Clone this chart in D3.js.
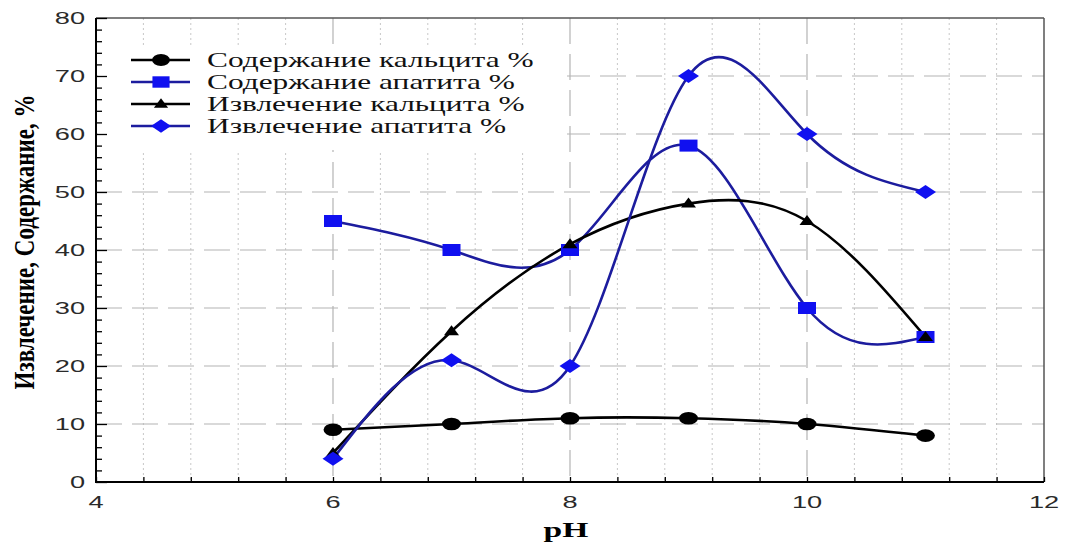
<!DOCTYPE html>
<html>
<head>
<meta charset="utf-8">
<script src="https://cdn.jsdelivr.net/npm/d3@7"></script>
<style>
  body { margin: 0; background: #fff; }
  svg { display: block; }
</style>
</head>
<body>
<div id="plot"></div>
<script>
// data
var ph = [6, 7, 8, 9, 10, 11];
var calciteContent = [9, 10, 11, 11, 10, 8];
var apatiteContent = [45, 40, 40, 58, 30, 25];
var calciteRecovery = [5, 26, 41, 48, 45, 25];
var apatiteRecovery = [4, 21, 20, 70, 60, 50];
var seriesNames = ["Содержание кальцита %", "Содержание апатита %", "Извлечение кальцита %", "Извлечение апатита %"];
var xTicks = [4, 6, 8, 10, 12];
var yTicks = [0, 10, 20, 30, 40, 50, 60, 70, 80];

var width = 1066;
var height = 542;
var SX = 1.6; // the original picture is stretched sideways

// plot box (window.top is read-only, so no "top" here)
var plotL = 96, plotR = 1044, plotT = 18, plotB = 482;

var svg = d3.select("#plot").append("svg")
    .attr("width", width)
    .attr("height", height);

var x = d3.scaleLinear().domain([4, 12]).range([plotL, plotR]);
var y = d3.scaleLinear().domain([0, 80]).range([plotB, plotT]);

var navy = "#1c1c9e";
var blue = "#1010f0";

var series = [
  { name: seriesNames[0], values: calciteContent, line: "#000", fill: "#000", shape: "circle" },
  { name: seriesNames[1], values: apatiteContent, line: navy, fill: blue, shape: "square" },
  { name: seriesNames[2], values: calciteRecovery, line: "#000", fill: "#000", shape: "triangle" },
  { name: seriesNames[3], values: apatiteRecovery, line: navy, fill: blue, shape: "diamond" }
];

// text helper, stretched horizontally like the source image
function addText(parent, px, py, str, opt) {
  var sx = opt.sx || SX;
  var t = parent.append("text")
    .attr("transform", "translate(" + px + "," + py + ") scale(" + sx + ",1)" + (opt.rotate ? " rotate(-90)" : ""))
    .attr("text-anchor", opt.anchor || "start")
    .style("font-family", opt.family)
    .style("font-size", opt.size + "px")
    .style("font-weight", opt.weight || "normal")
    .style("fill", opt.color || "#000")
    .text(str);
  if (opt.dy) t.attr("dy", opt.dy);
  return t;
}

// minor vertical dotted grid every 0.4
var minorX = d3.range(4.4, 12, 0.4).filter(function(v) { return Math.abs(v / 2 - Math.round(v / 2)) > 0.01; });
svg.append("g").selectAll("line")
  .data(minorX)
  .enter().append("line")
  .attr("x1", function(d) { return x(d); })
  .attr("x2", function(d) { return x(d); })
  .attr("y1", plotT).attr("y2", plotB)
  .style("stroke", "#c8c8c8")
  .style("stroke-width", 1)
  .style("stroke-dasharray", "2,3");

// major dashed grid
svg.append("g").selectAll("line")
  .data(xTicks.slice(1, -1))
  .enter().append("line")
  .attr("x1", function(d) { return x(d); })
  .attr("x2", function(d) { return x(d); })
  .attr("y1", plotT).attr("y2", plotB)
  .style("stroke", "#b4b4b4")
  .style("stroke-width", 1.2)
  .style("stroke-dasharray", "26,10");

svg.append("g").selectAll("line")
  .data(yTicks.slice(1, -1))
  .enter().append("line")
  .attr("x1", plotL).attr("x2", plotR)
  .attr("y1", function(d) { return y(d); })
  .attr("y2", function(d) { return y(d); })
  .style("stroke", "#b4b4b4")
  .style("stroke-width", 1.2)
  .style("stroke-dasharray", "26,10");

// white legend box hides grid behind it
svg.append("rect")
  .attr("x", plotL + 2).attr("y", 45)
  .attr("width", x(8) - plotL - 5).attr("height", 105)
  .style("fill", "#fff");

// frame
svg.append("line").attr("x1", plotL).attr("x2", plotR).attr("y1", plotT).attr("y2", plotT)
  .style("stroke", "#555").style("stroke-width", 1.5);
svg.append("line").attr("x1", plotR).attr("x2", plotR).attr("y1", plotT).attr("y2", plotB)
  .style("stroke", "#555").style("stroke-width", 1.5);

// axes with inward ticks
var yAxis = d3.axisRight(y).tickValues(d3.range(0, 81, 2)).tickSize(6).tickFormat("");
svg.append("g").attr("transform", "translate(" + plotL + ",0)").call(yAxis)
  .call(function(g) {
    g.select(".domain").remove();
    g.selectAll(".tick line")
      .attr("x2", function(d) { return d % 10 === 0 ? 11 : 6; })
      .style("stroke", "#000").style("stroke-width", 1.3);
  });

var xAxis = d3.axisTop(x).tickValues(d3.range(4, 12.01, 0.4)).tickSize(5).tickFormat("");
svg.append("g").attr("transform", "translate(0," + plotB + ")").call(xAxis)
  .call(function(g) {
    g.select(".domain").remove();
    g.selectAll(".tick line").style("stroke", "#000").style("stroke-width", 1.3);
  });

svg.append("line").attr("x1", plotL).attr("x2", plotL).attr("y1", plotT).attr("y2", plotB + 1)
  .style("stroke", "#000").style("stroke-width", 2);
svg.append("line").attr("x1", plotL - 1).attr("x2", plotR).attr("y1", plotB).attr("y2", plotB)
  .style("stroke", "#000").style("stroke-width", 2);

// tick labels
yTicks.forEach(function(v) {
  addText(svg, plotL - 11, y(v), v, { family: "Liberation Sans, Arial", size: 17, anchor: "end", color: "#2a2a2a", dy: "0.36em" });
});
xTicks.forEach(function(v) {
  addText(svg, x(v), 508, v, { family: "Liberation Sans, Arial", size: 17, anchor: "middle", color: "#2a2a2a" });
});

// axis titles
addText(svg, 566, 537, "pH", { family: "Liberation Serif, Times New Roman", size: 21, weight: "bold", anchor: "middle" });
var yt = addText(svg, 34, 242, "Извлечение, Содержание, %", { family: "Liberation Serif, Times New Roman", size: 18, weight: "bold", anchor: "middle", rotate: true });
yt.attr("textLength", 295).attr("lengthAdjust", "spacingAndGlyphs");

// marker shapes
function marker(g, shape, fill, k) {
  var s;
  if (shape === "circle") {
    s = g.append("circle").attr("r", 6.3 * k);
  } else if (shape === "square") {
    s = g.append("rect").attr("x", -6 * k).attr("y", -6 * k).attr("width", 12 * k).attr("height", 12 * k);
  } else if (shape === "triangle") {
    s = g.append("path").attr("d", "M0," + (-6 * k) + "L" + (5 * k) + "," + (4 * k) + "L" + (-5 * k) + "," + (4 * k) + "Z");
  } else {
    s = g.append("path").attr("d", "M0," + (-7 * k) + "L" + (7 * k) + ",0L0," + (7 * k) + "L" + (-7 * k) + ",0Z");
  }
  s.style("fill", fill);
}

var line = d3.line()
  .x(function(d, i) { return x(ph[i]); })
  .y(function(d) { return y(d); })
  .curve(d3.curveNatural);

series.forEach(function(s) {
  svg.append("path")
    .datum(s.values)
    .attr("d", line)
    .style("fill", "none")
    .style("stroke", s.line)
    .style("stroke-width", 2.6);
});

series.forEach(function(s) {
  s.values.forEach(function(v, i) {
    var g = svg.append("g")
      .attr("transform", "translate(" + x(ph[i]) + "," + y(v) + ") scale(" + 1.5 + ",1)");
    marker(g, s.shape, s.fill, 1);
  });
});

// legend
var legendRows = [60, 82, 104, 126];
series.forEach(function(s, i) {
  var ly = legendRows[i];
  svg.append("line")
    .attr("x1", 131).attr("x2", 190)
    .attr("y1", ly).attr("y2", ly)
    .style("stroke", s.line).style("stroke-width", 2.6);
  var g = svg.append("g").attr("transform", "translate(161," + ly + ") scale(1.5,1)");
  marker(g, s.shape, s.fill, 0.95);
  addText(svg, 207, ly, s.name, { family: "Liberation Serif, Times New Roman", size: 20.5, color: "#111", dy: "0.33em", sx: 1.53 });
});
</script>
</body>
</html>
